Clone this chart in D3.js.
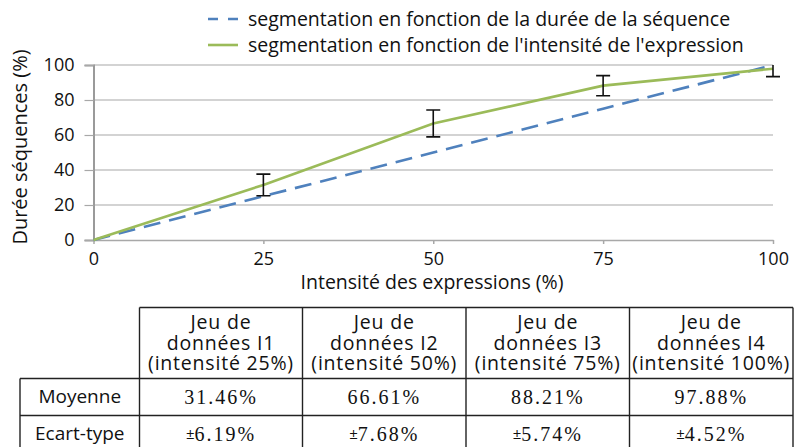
<!DOCTYPE html>
<html>
<head>
<meta charset="utf-8">
<script src="https://cdn.jsdelivr.net/npm/d3@7"></script>
<style>
  html, body { margin: 0; padding: 0; background: #fff; }
  svg { display: block; }
</style>
</head>
<body>
<svg id="chart" width="795" height="447"></svg>
<script>
// Intensity levels (x) and the two segmentation curves (y, %)
const intensities = [0, 25, 50, 75, 100];
const dureeSeries = [0, 25, 50, 75, 100];
const intensiteSeries = [0, 31.46, 66.61, 88.21, 97.88];
const ecartTypes = [null, 6.19, 7.68, 5.74, 4.52];

const xTicks = [0, 25, 50, 75, 100];
const yTicks = [0, 20, 40, 60, 80, 100];

const legendLabels = [
  "segmentation en fonction de la durée de la séquence",
  "segmentation en fonction de l'intensité de l'expression"
];

// Summary table
const tableColumns = [
  ["Jeu de", "données I1", "(intensité 25%)"],
  ["Jeu de", "données I2", "(intensité 50%)"],
  ["Jeu de", "données I3", "(intensité 75%)"],
  ["Jeu de", "données I4", "(intensité 100%)"]
];
const rowLabels = ["Moyenne", "Ecart-type"];
const moyennes = ["31.46%", "66.61%", "88.21%", "97.88%"];
const ecarts = ["6.19%", "7.68%", "5.74%", "4.52%"];

const SANS = "'Open Sans', 'Noto Sans', 'Liberation Sans', Arial, sans-serif";
const SERIF = "'Liberation Serif', 'Times New Roman', serif";
const BLUE = "#4f81bd", GREEN = "#9bbb59";

const svg = d3.select("#chart");

const x = d3.scaleLinear().domain([0, 100]).range([93.5, 773]);
const y = d3.scaleLinear().domain([0, 100]).range([240, 65]);

// Gridlines
svg.append("g").selectAll("line").data(yTicks.filter(d => d > 0)).join("line")
  .attr("x1", x(0)).attr("x2", x(100))
  .attr("y1", d => y(d)).attr("y2", d => y(d))
  .attr("stroke", "#a8a8a8").attr("stroke-width", 1.2);

// Y axis
const yAxis = svg.append("g").attr("transform", `translate(${x(0)},0)`)
  .call(d3.axisLeft(y).tickValues(yTicks).tickSize(9).tickPadding(10));
yAxis.select(".domain").attr("stroke", "#9a9a9a").attr("stroke-width", 2);
yAxis.selectAll(".tick line").attr("stroke", "#a8a8a8").attr("stroke-width", 1.2);
yAxis.selectAll("text").attr("font-family", SANS).attr("font-size", 18).attr("fill", "#111");

// X axis
const xAxis = svg.append("g").attr("transform", `translate(0,${y(0)})`)
  .call(d3.axisBottom(x).tickValues(xTicks).tickSize(4).tickPadding(8).tickSizeOuter(0));
xAxis.select(".domain").attr("stroke", "#a8a8a8").attr("stroke-width", 1.5);
xAxis.selectAll(".tick line").attr("stroke", "#a8a8a8").attr("stroke-width", 1.5);
xAxis.selectAll("text").attr("font-family", SANS).attr("font-size", 18).attr("fill", "#111");

// Axis titles
svg.append("text").attr("x", 432).attr("y", 289).attr("text-anchor", "middle")
  .attr("font-family", SANS).attr("font-size", 19.5).attr("fill", "#111")
  .text("Intensité des expressions (%)");
svg.append("text").attr("transform", "translate(27,147) rotate(-90)").attr("text-anchor", "middle")
  .attr("font-family", SANS).attr("font-size", 20).attr("fill", "#111")
  .text("Durée séquences (%)");

// Lines
const line = d3.line().x((d, i) => x(intensities[i])).y(d => y(d));
svg.append("path").datum(dureeSeries).attr("d", line)
  .attr("fill", "none").attr("stroke", BLUE).attr("stroke-width", 2.6)
  .attr("stroke-dasharray", "17,9");
svg.append("path").datum(intensiteSeries).attr("d", line)
  .attr("fill", "none").attr("stroke", GREEN).attr("stroke-width", 2.6);

// Error bars, clipped to the plot area
svg.append("clipPath").attr("id", "plot-clip").append("rect")
  .attr("x", x(0) - 20).attr("y", y(100)).attr("width", x(100) - x(0) + 40).attr("height", y(0) - y(100) + 5);
const errData = intensities.map((v, i) => ({ x: v, m: intensiteSeries[i], s: ecartTypes[i] })).filter(d => d.s != null);
const eg = svg.append("g").attr("clip-path", "url(#plot-clip)")
  .attr("stroke", "#111").attr("stroke-width", 1.6);
const bars = eg.selectAll("g").data(errData).join("g");
bars.append("line").attr("x1", d => x(d.x)).attr("x2", d => x(d.x))
  .attr("y1", d => y(d.m + d.s)).attr("y2", d => y(d.m - d.s));
bars.append("line").attr("x1", d => x(d.x) - 7).attr("x2", d => x(d.x) + 7)
  .attr("y1", d => y(d.m + d.s)).attr("y2", d => y(d.m + d.s));
bars.append("line").attr("x1", d => x(d.x) - 7).attr("x2", d => x(d.x) + 7)
  .attr("y1", d => y(d.m - d.s)).attr("y2", d => y(d.m - d.s));

// Legend
const lg = svg.append("g");
legendLabels.forEach((lab, i) => {
  const ly = 19 + i * 26;
  lg.append("line").attr("x1", 208).attr("x2", 238).attr("y1", ly).attr("y2", ly)
    .attr("stroke", i === 0 ? BLUE : GREEN).attr("stroke-width", 2.6)
    .attr("stroke-dasharray", i === 0 ? "10,10" : null);
  lg.append("text").attr("x", 248).attr("y", ly + 7)
    .attr("font-family", SANS).attr("font-size", 19.5).attr("fill", "#111").text(lab);
});

// Table
const colX = [20, 139.5, 302.5, 466, 629.5, 793];
const rowY = [307.5, 378.5, 415.5, 452];
const tg = svg.append("g").attr("stroke", "#222").attr("stroke-width", 1.4);
// horizontal rules
tg.append("line").attr("x1", colX[1]).attr("x2", colX[5]).attr("y1", rowY[0]).attr("y2", rowY[0]);
[1, 2].forEach(r => tg.append("line").attr("x1", colX[0]).attr("x2", colX[5]).attr("y1", rowY[r]).attr("y2", rowY[r]));
// vertical rules
colX.forEach((cx, i) => tg.append("line").attr("x1", cx).attr("x2", cx)
  .attr("y1", i === 0 ? rowY[1] : rowY[0]).attr("y2", rowY[3]));

const txt = svg.append("g").attr("fill", "#111");
tableColumns.forEach((lines, c) => {
  const cx = (colX[c + 1] + colX[c + 2]) / 2;
  lines.forEach((l, k) => {
    txt.append("text").attr("x", cx).attr("y", 329 + k * 20.5).attr("text-anchor", "middle")
      .attr("font-family", SANS).attr("font-size", 19.5).attr("letter-spacing", 0.8).text(l);
  });
  txt.append("text").attr("x", cx).attr("y", 404).attr("text-anchor", "middle")
    .attr("font-family", SERIF).attr("font-size", 20).attr("letter-spacing", 2).text(moyennes[c]);
  const et = txt.append("text").attr("x", cx).attr("y", 441).attr("text-anchor", "middle")
    .attr("font-family", SERIF).attr("font-size", 20).attr("letter-spacing", 2);
  et.append("tspan").attr("font-family", SANS).attr("font-size", 15).attr("letter-spacing", 0)
    .attr("dy", -2).text("±");
  et.append("tspan").attr("dy", 2).text(ecarts[c]);
});
rowLabels.forEach((l, r) => {
  txt.append("text").attr("x", (colX[0] + colX[1]) / 2).attr("y", r === 0 ? 403 : 440)
    .attr("text-anchor", "middle").attr("font-family", SANS).attr("font-size", 19).text(l);
});
</script>
</body>
</html>
